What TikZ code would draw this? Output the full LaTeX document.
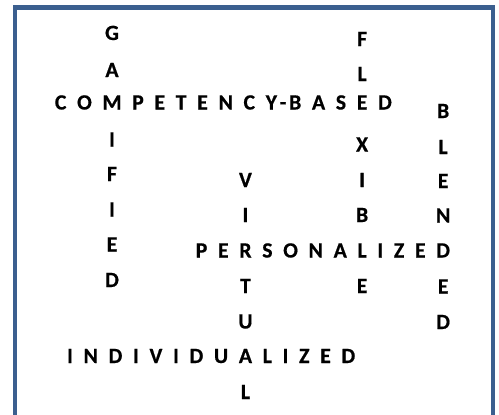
\documentclass[tikz,border=0pt]{standalone}
\usepackage{fontspec}
\setmainfont{Carlito}[BoldFeatures={FakeBold=0.6}]
\definecolor{frameblue}{RGB}{59,95,143}
\def\G{10.7}
\def\S{2.7}
\begin{document}
\begin{tikzpicture}[x=0.75pt,y=-0.75pt,
  ltr/.style={font=\fontsize{16.3pt}{19pt}\selectfont\bfseries, inner sep=0pt, outer sep=0pt, anchor=base, text=black}]
\useasboundingbox (0,0) rectangle (499,414);
\begin{scope}
  \clip (0,0) rectangle (499,414);
  \draw[frameblue, line width=3.4pt] (15,7.5) rectangle (492.8,440);
\end{scope}
% COMPETENCY-BASED, anchored at M
\node[ltr] (cb3) at (112,109.5) {M};
\foreach \n/\p/\l in {2/3/O,1/2/C}
  \node[ltr,anchor=base east] (cb\n) at ([xshift={-\G*0.75pt}]cb\p.base west) {\l};
\foreach \n/\p/\l/\g in {4/3/P/\G,5/4/E/\G,6/5/T/\G,7/6/E/\G,8/7/N/\G,9/8/C/\G,10/9/Y/\G,11/10/-/\S,12/11/B/\S,13/12/A/\G,14/13/S/\G,15/14/E/\G,16/15/D/\G}
  \node[ltr,anchor=base west] (cb\n) at ([xshift={\g*0.75pt}]cb\p.base east) {\l};
% PERSONALIZED, anchored at L under the E of COMPETENCY-BASED
\node[ltr] (pz8) at (cb15.base |- 0,257.5) {L};
\foreach \n/\p/\l in {7/8/A,6/7/N,5/6/O,4/5/S,3/4/R,2/3/E,1/2/P}
  \node[ltr,anchor=base east] (pz\n) at ([xshift={-\G*0.75pt}]pz\p.base west) {\l};
\foreach \n/\p/\l in {9/8/I,10/9/Z,11/10/E,12/11/D}
  \node[ltr,anchor=base west] (pz\n) at ([xshift={\G*0.75pt}]pz\p.base east) {\l};
% INDIVIDUALIZED, anchored at A under the R of PERSONALIZED
\node[ltr] (iz9) at (pz3.base |- 0,363) {A};
\foreach \n/\p/\l in {8/9/U,7/8/D,6/7/I,5/6/V,4/5/I,3/4/D,2/3/N,1/2/I}
  \node[ltr,anchor=base east] (iz\n) at ([xshift={-\G*0.75pt}]iz\p.base west) {\l};
\foreach \n/\p/\l in {10/9/L,11/10/I,12/11/Z,13/12/E,14/13/D}
  \node[ltr,anchor=base west] (iz\n) at ([xshift={\G*0.75pt}]iz\p.base east) {\l};
% GAMIFIED
\foreach \n/\l/\y in {1/G/40,2/A/77,4/I/146.5,5/F/181,6/I/216.5,7/E/251.5,8/D/287}
  \node[ltr] (ga\n) at (cb3.base |- 0,\y) {\l};
% FLEXIBLE
\foreach \n/\l/\y in {1/F/46,2/L/81,4/X/151.5,5/I/187,6/B/222}
  \node[ltr] (fx\n) at (cb15.base |- 0,\y) {\l};
\node[ltr] (fx8) at (cb15.base |- 0,293) {E};
% VIRTUAL
\foreach \n/\l/\y in {1/V/187,2/I/222,4/T/293,5/U/328.5,7/L/399}
  \node[ltr] (vt\n) at (pz3.base |- 0,\y) {\l};
% BLENDED
\foreach \n/\l/\y in {1/B/118,2/L/154,3/E/188,4/N/222.5,6/E/293.5,7/D/329}
  \node[ltr] (bl\n) at (pz12.base |- 0,\y) {\l};
\end{tikzpicture}
\end{document}
